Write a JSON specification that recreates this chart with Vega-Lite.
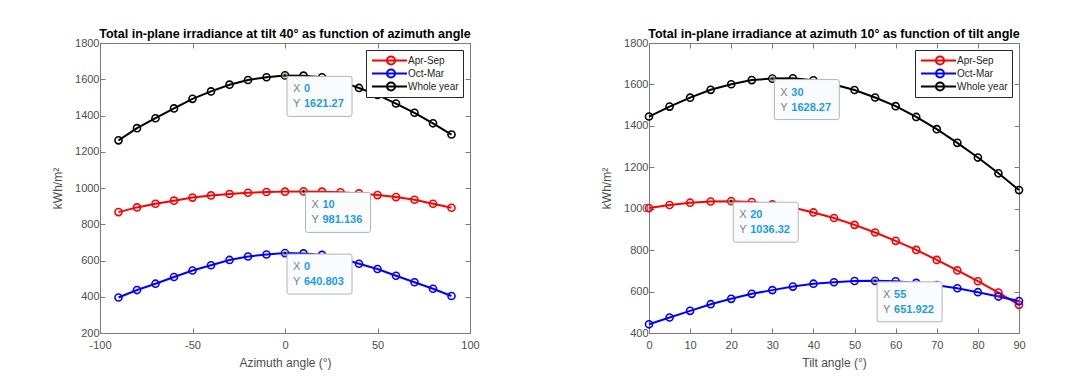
{
  "$schema": "https://vega.github.io/schema/vega-lite/v6.json",
  "background": "white",
  "padding": {"left": 51, "top": 27, "right": 5, "bottom": 5},
  "spacing": 120,
  "resolve": {"legend": {"color": "independent"}},
  "config": {
    "font": "Liberation Sans",
    "view": {"stroke": "#7a7a7a", "strokeWidth": 1},
    "axis": {
      "grid": false,
      "domainColor": "#7a7a7a",
      "tickColor": "#7a7a7a",
      "tickSize": -5,
      "labelFont": "Liberation Sans",
      "labelFontSize": 11,
      "labelColor": "#4d4d4d",
      "labelPadding": 4,
      "labelFlush": false,
      "labelOverlap": false,
      "labelExpr": "'' + datum.value",
      "titleFont": "Liberation Sans",
      "titleFontSize": 12,
      "titleFontWeight": "normal",
      "titleColor": "#4d4d4d",
      "titlePadding": 5
    },
    "axisLeft": {"labelPadding": 6, "titlePadding": 10},
    "axisBottom": {"labelPadding": 11, "titlePadding": 7},
    "title": {"font": "Liberation Sans", "fontSize": 12.5, "fontWeight": "bold", "color": "#000000", "offset": -3, "anchor": "middle", "frame": "group"},
    "legend": {
      "orient": "top-right",
      "offset": 7,
      "strokeColor": "#262626",
      "fillColor": "#ffffff",
      "padding": 4,
      "labelFont": "Liberation Sans",
      "labelFontSize": 10,
      "labelColor": "#262626",
      "labelOffset": 28,
      "symbolType": "M-1,0H10.67M6.67,0A1.333,1.333,0,1,1,4,0A1.333,1.333,0,1,1,6.67,0",
      "symbolSize": 36,
      "symbolStrokeWidth": 2,
      "symbolFillColor": "transparent",
      "clipHeight": 13,
      "rowPadding": 0
    }
  },
  "datasets": {
    "az": [
      {"angle": -90, "series": "Apr-Sep", "kwh": 867}, {"angle": -80, "series": "Apr-Sep", "kwh": 893}, {"angle": -70, "series": "Apr-Sep", "kwh": 913}, {"angle": -60, "series": "Apr-Sep", "kwh": 930}, {"angle": -50, "series": "Apr-Sep", "kwh": 947}, {"angle": -40, "series": "Apr-Sep", "kwh": 959}, {"angle": -30, "series": "Apr-Sep", "kwh": 967}, {"angle": -20, "series": "Apr-Sep", "kwh": 974}, {"angle": -10, "series": "Apr-Sep", "kwh": 978}, {"angle": 0, "series": "Apr-Sep", "kwh": 980}, {"angle": 10, "series": "Apr-Sep", "kwh": 981.136}, {"angle": 20, "series": "Apr-Sep", "kwh": 980}, {"angle": 30, "series": "Apr-Sep", "kwh": 976}, {"angle": 40, "series": "Apr-Sep", "kwh": 970}, {"angle": 50, "series": "Apr-Sep", "kwh": 961}, {"angle": 60, "series": "Apr-Sep", "kwh": 950}, {"angle": 70, "series": "Apr-Sep", "kwh": 935}, {"angle": 80, "series": "Apr-Sep", "kwh": 913}, {"angle": 90, "series": "Apr-Sep", "kwh": 891},
      {"angle": -90, "series": "Oct-Mar", "kwh": 396}, {"angle": -80, "series": "Oct-Mar", "kwh": 437}, {"angle": -70, "series": "Oct-Mar", "kwh": 472}, {"angle": -60, "series": "Oct-Mar", "kwh": 509}, {"angle": -50, "series": "Oct-Mar", "kwh": 545}, {"angle": -40, "series": "Oct-Mar", "kwh": 574}, {"angle": -30, "series": "Oct-Mar", "kwh": 603}, {"angle": -20, "series": "Oct-Mar", "kwh": 622}, {"angle": -10, "series": "Oct-Mar", "kwh": 633}, {"angle": 0, "series": "Oct-Mar", "kwh": 640.803}, {"angle": 10, "series": "Oct-Mar", "kwh": 639}, {"angle": 20, "series": "Oct-Mar", "kwh": 631}, {"angle": 30, "series": "Oct-Mar", "kwh": 612}, {"angle": 40, "series": "Oct-Mar", "kwh": 582}, {"angle": 50, "series": "Oct-Mar", "kwh": 553}, {"angle": 60, "series": "Oct-Mar", "kwh": 516}, {"angle": 70, "series": "Oct-Mar", "kwh": 480}, {"angle": 80, "series": "Oct-Mar", "kwh": 444}, {"angle": 90, "series": "Oct-Mar", "kwh": 404},
      {"angle": -90, "series": "Whole year", "kwh": 1263}, {"angle": -80, "series": "Whole year", "kwh": 1330}, {"angle": -70, "series": "Whole year", "kwh": 1385}, {"angle": -60, "series": "Whole year", "kwh": 1439}, {"angle": -50, "series": "Whole year", "kwh": 1492}, {"angle": -40, "series": "Whole year", "kwh": 1533}, {"angle": -30, "series": "Whole year", "kwh": 1570}, {"angle": -20, "series": "Whole year", "kwh": 1596}, {"angle": -10, "series": "Whole year", "kwh": 1611}, {"angle": 0, "series": "Whole year", "kwh": 1621.27}, {"angle": 10, "series": "Whole year", "kwh": 1620}, {"angle": 20, "series": "Whole year", "kwh": 1611}, {"angle": 30, "series": "Whole year", "kwh": 1588}, {"angle": 40, "series": "Whole year", "kwh": 1552}, {"angle": 50, "series": "Whole year", "kwh": 1514}, {"angle": 60, "series": "Whole year", "kwh": 1466}, {"angle": 70, "series": "Whole year", "kwh": 1415}, {"angle": 80, "series": "Whole year", "kwh": 1357}, {"angle": 90, "series": "Whole year", "kwh": 1295}
    ],
    "tilt": [
      {"angle": 0, "series": "Apr-Sep", "kwh": 1003}, {"angle": 5, "series": "Apr-Sep", "kwh": 1018}, {"angle": 10, "series": "Apr-Sep", "kwh": 1029}, {"angle": 15, "series": "Apr-Sep", "kwh": 1035}, {"angle": 20, "series": "Apr-Sep", "kwh": 1036.32}, {"angle": 25, "series": "Apr-Sep", "kwh": 1032}, {"angle": 30, "series": "Apr-Sep", "kwh": 1021}, {"angle": 35, "series": "Apr-Sep", "kwh": 1006}, {"angle": 40, "series": "Apr-Sep", "kwh": 982}, {"angle": 45, "series": "Apr-Sep", "kwh": 955}, {"angle": 50, "series": "Apr-Sep", "kwh": 922}, {"angle": 55, "series": "Apr-Sep", "kwh": 885}, {"angle": 60, "series": "Apr-Sep", "kwh": 845}, {"angle": 65, "series": "Apr-Sep", "kwh": 801}, {"angle": 70, "series": "Apr-Sep", "kwh": 753}, {"angle": 75, "series": "Apr-Sep", "kwh": 702}, {"angle": 80, "series": "Apr-Sep", "kwh": 650}, {"angle": 85, "series": "Apr-Sep", "kwh": 595}, {"angle": 90, "series": "Apr-Sep", "kwh": 536},
      {"angle": 0, "series": "Oct-Mar", "kwh": 442}, {"angle": 5, "series": "Oct-Mar", "kwh": 475}, {"angle": 10, "series": "Oct-Mar", "kwh": 507}, {"angle": 15, "series": "Oct-Mar", "kwh": 539}, {"angle": 20, "series": "Oct-Mar", "kwh": 565}, {"angle": 25, "series": "Oct-Mar", "kwh": 589}, {"angle": 30, "series": "Oct-Mar", "kwh": 607}, {"angle": 35, "series": "Oct-Mar", "kwh": 624}, {"angle": 40, "series": "Oct-Mar", "kwh": 638}, {"angle": 45, "series": "Oct-Mar", "kwh": 645}, {"angle": 50, "series": "Oct-Mar", "kwh": 651}, {"angle": 55, "series": "Oct-Mar", "kwh": 651.922}, {"angle": 60, "series": "Oct-Mar", "kwh": 650}, {"angle": 65, "series": "Oct-Mar", "kwh": 642}, {"angle": 70, "series": "Oct-Mar", "kwh": 631}, {"angle": 75, "series": "Oct-Mar", "kwh": 616}, {"angle": 80, "series": "Oct-Mar", "kwh": 597}, {"angle": 85, "series": "Oct-Mar", "kwh": 576}, {"angle": 90, "series": "Oct-Mar", "kwh": 554},
      {"angle": 0, "series": "Whole year", "kwh": 1445}, {"angle": 5, "series": "Whole year", "kwh": 1493}, {"angle": 10, "series": "Whole year", "kwh": 1536}, {"angle": 15, "series": "Whole year", "kwh": 1574}, {"angle": 20, "series": "Whole year", "kwh": 1601}, {"angle": 25, "series": "Whole year", "kwh": 1621}, {"angle": 30, "series": "Whole year", "kwh": 1628.27}, {"angle": 35, "series": "Whole year", "kwh": 1630}, {"angle": 40, "series": "Whole year", "kwh": 1620}, {"angle": 45, "series": "Whole year", "kwh": 1600}, {"angle": 50, "series": "Whole year", "kwh": 1573}, {"angle": 55, "series": "Whole year", "kwh": 1537}, {"angle": 60, "series": "Whole year", "kwh": 1495}, {"angle": 65, "series": "Whole year", "kwh": 1443}, {"angle": 70, "series": "Whole year", "kwh": 1384}, {"angle": 75, "series": "Whole year", "kwh": 1318}, {"angle": 80, "series": "Whole year", "kwh": 1247}, {"angle": 85, "series": "Whole year", "kwh": 1171}, {"angle": 90, "series": "Whole year", "kwh": 1090}
    ],
    "tipAz": [
      {"x": 0, "y": 1621.27, "xs": "0", "ys": "1621.27"},
      {"x": 10, "y": 981.136, "xs": "10", "ys": "981.136"},
      {"x": 0, "y": 640.803, "xs": "0", "ys": "640.803"}
    ],
    "tipTilt": [
      {"x": 30, "y": 1628.27, "xs": "30", "ys": "1628.27"},
      {"x": 20, "y": 1036.32, "xs": "20", "ys": "1036.32"},
      {"x": 55, "y": 651.922, "xs": "55", "ys": "651.922"}
    ]
  },
  "hconcat": [
    {
      "width": 370,
      "height": 290,
      "title": "Total in-plane irradiance at tilt 40° as function of azimuth angle",
      "resolve": {"axis": {"x": "independent", "y": "independent"}},
      "layer": [
        {
          "data": {"name": "az"},
          "mark": {"type": "line", "strokeWidth": 2, "point": {"filled": false, "size": 50, "strokeWidth": 1.6}},
          "encoding": {
            "x": {"field": "angle", "type": "quantitative", "scale": {"domain": [-100, 100], "nice": false}, "axis": {"orient": "bottom", "values": [-100, -50, 0, 50, 100], "title": "Azimuth angle (°)"}},
            "y": {"field": "kwh", "type": "quantitative", "scale": {"domain": [200, 1800], "nice": false, "zero": false}, "axis": {"orient": "left", "values": [200, 400, 600, 800, 1000, 1200, 1400, 1600, 1800], "title": "kWh/m²"}},
            "color": {"field": "series", "type": "nominal", "scale": {"domain": ["Apr-Sep", "Oct-Mar", "Whole year"], "range": ["#ff0000", "#0000ff", "#000000"]}, "legend": {"title": null}}
          }
        },
        {
          "data": {"name": "az"},
          "mark": {"type": "point", "opacity": 0},
          "encoding": {
            "x": {"field": "angle", "type": "quantitative", "scale": {"domain": [-100, 100], "nice": false}, "axis": {"orient": "top", "values": [-100, -50, 0, 50, 100], "labels": false, "domain": false, "title": null}},
            "y": {"field": "kwh", "type": "quantitative", "scale": {"domain": [200, 1800], "nice": false, "zero": false}, "axis": {"orient": "right", "values": [200, 400, 600, 800, 1000, 1200, 1400, 1600, 1800], "labels": false, "domain": false, "title": null}}
          }
        },
        {
          "data": {"name": "tipAz"},
          "encoding": {
            "x": {"field": "x", "type": "quantitative", "scale": {"domain": [-100, 100], "nice": false}, "axis": null},
            "y": {"field": "y", "type": "quantitative", "scale": {"domain": [200, 1800], "nice": false, "zero": false}, "axis": null}
          },
          "layer": [
            {"mark": {"type": "point", "filled": true, "color": "#9a9a8a", "opacity": 0.55, "size": 45}},
            {"mark": {"type": "point", "filled": true, "color": "#000000", "opacity": 1, "size": 5}},
            {"mark": {"type": "point", "shape": "M4,1H65Q67,1,67,3V39Q67,41,65,41H4Q2,41,2,39V3Q2,1,4,1Z", "size": 4, "filled": true, "fill": "#f9fbfd", "fillOpacity": 1, "stroke": "#b4b4b4", "strokeWidth": 1, "opacity": 1}},
            {"mark": {"type": "text", "text": "X", "align": "left", "baseline": "middle", "dx": 8, "dy": 14, "fontSize": 11, "color": "#7f7f7f"}},
            {"mark": {"type": "text", "text": "Y", "align": "left", "baseline": "middle", "dx": 8, "dy": 29, "fontSize": 11, "color": "#7f7f7f"}},
            {"mark": {"type": "text", "align": "left", "baseline": "middle", "dx": 19, "dy": 14, "fontSize": 11, "fontWeight": "bold", "color": "#1f9be4"}, "encoding": {"text": {"field": "xs"}}},
            {"mark": {"type": "text", "align": "left", "baseline": "middle", "dx": 19, "dy": 29, "fontSize": 11, "fontWeight": "bold", "color": "#1f9be4"}, "encoding": {"text": {"field": "ys"}}}
          ]
        }
      ]
    },
    {
      "width": 370,
      "height": 290,
      "title": "Total in-plane irradiance at azimuth 10° as function of tilt angle",
      "resolve": {"axis": {"x": "independent", "y": "independent"}},
      "layer": [
        {
          "data": {"name": "tilt"},
          "mark": {"type": "line", "strokeWidth": 2, "point": {"filled": false, "size": 50, "strokeWidth": 1.6}},
          "encoding": {
            "x": {"field": "angle", "type": "quantitative", "scale": {"domain": [0, 90], "nice": false}, "axis": {"orient": "bottom", "values": [0, 10, 20, 30, 40, 50, 60, 70, 80, 90], "title": "Tilt angle (°)"}},
            "y": {"field": "kwh", "type": "quantitative", "scale": {"domain": [400, 1800], "nice": false, "zero": false}, "axis": {"orient": "left", "values": [400, 600, 800, 1000, 1200, 1400, 1600, 1800], "title": "kWh/m²"}},
            "color": {"field": "series", "type": "nominal", "scale": {"domain": ["Apr-Sep", "Oct-Mar", "Whole year"], "range": ["#ff0000", "#0000ff", "#000000"]}, "legend": {"title": null}}
          }
        },
        {
          "data": {"name": "tilt"},
          "mark": {"type": "point", "opacity": 0},
          "encoding": {
            "x": {"field": "angle", "type": "quantitative", "scale": {"domain": [0, 90], "nice": false}, "axis": {"orient": "top", "values": [0, 10, 20, 30, 40, 50, 60, 70, 80, 90], "labels": false, "domain": false, "title": null}},
            "y": {"field": "kwh", "type": "quantitative", "scale": {"domain": [400, 1800], "nice": false, "zero": false}, "axis": {"orient": "right", "values": [400, 600, 800, 1000, 1200, 1400, 1600, 1800], "labels": false, "domain": false, "title": null}}
          }
        },
        {
          "data": {"name": "tipTilt"},
          "encoding": {
            "x": {"field": "x", "type": "quantitative", "scale": {"domain": [0, 90], "nice": false}, "axis": null},
            "y": {"field": "y", "type": "quantitative", "scale": {"domain": [400, 1800], "nice": false, "zero": false}, "axis": null}
          },
          "layer": [
            {"mark": {"type": "point", "filled": true, "color": "#9a9a8a", "opacity": 0.55, "size": 45}},
            {"mark": {"type": "point", "filled": true, "color": "#000000", "opacity": 1, "size": 5}},
            {"mark": {"type": "point", "shape": "M4,1H65Q67,1,67,3V39Q67,41,65,41H4Q2,41,2,39V3Q2,1,4,1Z", "size": 4, "filled": true, "fill": "#f9fbfd", "fillOpacity": 1, "stroke": "#b4b4b4", "strokeWidth": 1, "opacity": 1}},
            {"mark": {"type": "text", "text": "X", "align": "left", "baseline": "middle", "dx": 8, "dy": 14, "fontSize": 11, "color": "#7f7f7f"}},
            {"mark": {"type": "text", "text": "Y", "align": "left", "baseline": "middle", "dx": 8, "dy": 29, "fontSize": 11, "color": "#7f7f7f"}},
            {"mark": {"type": "text", "align": "left", "baseline": "middle", "dx": 19, "dy": 14, "fontSize": 11, "fontWeight": "bold", "color": "#1f9be4"}, "encoding": {"text": {"field": "xs"}}},
            {"mark": {"type": "text", "align": "left", "baseline": "middle", "dx": 19, "dy": 29, "fontSize": 11, "fontWeight": "bold", "color": "#1f9be4"}, "encoding": {"text": {"field": "ys"}}}
          ]
        }
      ]
    }
  ]
}
